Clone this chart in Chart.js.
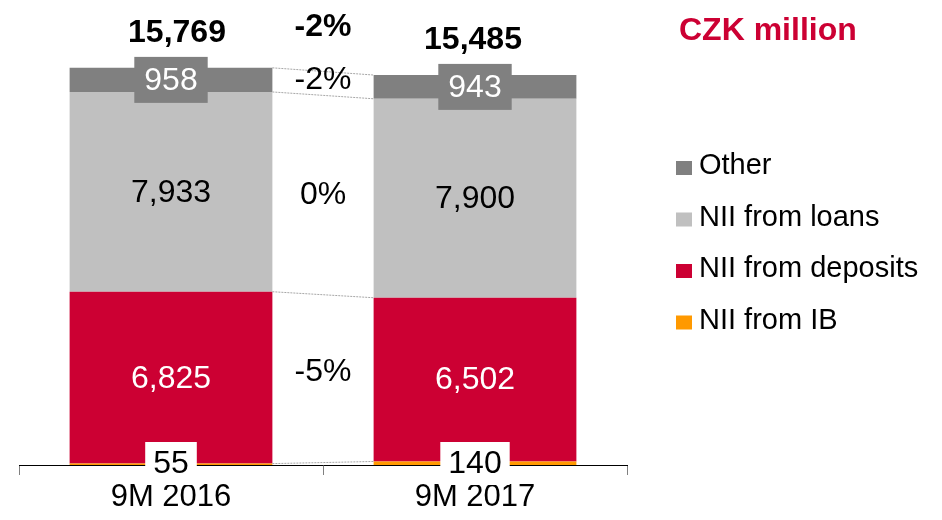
<!DOCTYPE html>
<html>
<head>
<meta charset="utf-8">
<script src="https://cdn.jsdelivr.net/npm/chart.js@4"></script>
<style>
  body { margin: 0; background: #fff; }
  #wrap { width: 942px; height: 520px; }
</style>
</head>
<body>
<div id="wrap"><canvas id="niichart" width="942" height="520"></canvas></div>
<script>
const categories = ['9M 2016', '9M 2017'];
const seriesNames = ['NII from IB', 'NII from deposits', 'NII from loans', 'Other'];
const niiFromIB = [55, 140];
const niiFromDeposits = [6825, 6502];
const niiFromLoans = [7933, 7900];
const other = [958, 943];
const totals = [15769, 15485];
const changes = ['', '-5%', '0%', '-2%'];   // per series, bottom to top
const totalChange = '-2%';
const unitTitle = 'CZK million';

const colors = ['#ff9900', '#cc0033', '#c0c0c0', '#808080'];
const FONT = '"Liberation Sans", Arial, sans-serif';

function fmt(v) {
    return v.toLocaleString('en-US');
}

function boxText(ctx, text, x, y, bg, fg, padX, padTop, padBottom) {
    var w = ctx.measureText(text).width;
    var h = 32;
    ctx.fillStyle = bg;
    ctx.fillRect(x - w / 2 - padX, y - h / 2 - padTop, w + padX * 2, h + padTop + padBottom);
    ctx.fillStyle = fg;
    ctx.fillText(text, x, y + 1);
}

// draws connectors, segment labels, totals, change %, legend and title
const annotations = {
    id: 'annotations',
    afterDatasetsDraw(chart) {
        const ctx = chart.ctx;
        const metas = chart.data.datasets.map((d, i) => chart.getDatasetMeta(i));
        ctx.save();

        // dotted connectors at the top of every segment
        ctx.strokeStyle = '#a6a6a6';
        ctx.lineWidth = 1;
        ctx.setLineDash([2, 1]);
        metas.forEach(m => {
            var a = m.data[0], b = m.data[1];
            ctx.beginPath();
            ctx.moveTo(a.x + a.width / 2, a.y);
            ctx.lineTo(b.x - b.width / 2, b.y);
            ctx.stroke();
        });
        ctx.setLineDash([]);

        ctx.textAlign = 'center';
        ctx.textBaseline = 'middle';
        ctx.font = '32px ' + FONT;

        metas.forEach((m, di) => {
            m.data.forEach((bar, i) => {
                var val = chart.data.datasets[di].data[i];
                var cy = (bar.y + bar.base) / 2;
                if (di === 0) {
                    boxText(ctx, fmt(val), bar.x, bar.base - 2, '#ffffff', '#000000', 8, 5, 6);
                } else if (di === 3) {
                    boxText(ctx, fmt(val), bar.x, cy, '#808080', '#ffffff', 10, 7, 7);
                } else {
                    ctx.fillStyle = di === 1 ? '#ffffff' : '#000000';
                    ctx.fillText(fmt(val), bar.x, cy + 1);
                }
            });
        });

        // change labels between the bars
        metas.forEach((m, di) => {
            if (!changes[di]) return;
            var a = m.data[0], b = m.data[1];
            var x = (a.x + a.width / 2 + b.x - b.width / 2) / 2;
            var y = ((a.y + a.base) / 2 + (b.y + b.base) / 2) / 2;
            if (di === 1) y -= 6;
            if (di === 3) y -= 3;
            ctx.fillStyle = '#000000';
            ctx.fillText(changes[di], x, y);
        });

        // totals
        var top = metas[3];
        ctx.font = 'bold 32px ' + FONT;
        top.data.forEach((bar, i) => {
            ctx.fillText(fmt(totals[i]), bar.x + (i === 0 ? 6 : -2), bar.y - 35);
        });
        var a = top.data[0], b = top.data[1];
        ctx.fillText(totalChange, (a.x + a.width / 2 + b.x - b.width / 2) / 2, (a.y + b.y) / 2 - 44);

        // unit title
        ctx.textAlign = 'left';
        ctx.fillStyle = '#cc0033';
        ctx.fillText(unitTitle, 679, 31);

        // legend, top series first
        ctx.font = '29px ' + FONT;
        for (var k = 0; k < seriesNames.length; k++) {
            var di = seriesNames.length - 1 - k;
            var ly = 166 + k * 51.5;
            ctx.fillStyle = colors[di];
            ctx.fillRect(676, ly - 5, 16, 14);
            ctx.fillStyle = '#000000';
            ctx.fillText(seriesNames[di], 699, ly);
        }
        ctx.restore();
    }
};

const seriesData = [niiFromIB, niiFromDeposits, niiFromLoans, other];

new Chart(document.getElementById('niichart'), {
    type: 'bar',
    data: {
        labels: categories,
        datasets: seriesNames.map((name, i) => ({
            label: name,
            data: seriesData[i],
            backgroundColor: colors[i],
            borderWidth: 0,
            categoryPercentage: 1,
            barPercentage: 0.667
        }))
    },
    options: {
        responsive: false,
        animation: false,
        devicePixelRatio: 1,
        layout: { padding: { left: 19, right: 315, top: 20, bottom: 0 } },
        plugins: {
            legend: { display: false },
            tooltip: { enabled: false }
        },
        scales: {
            x: {
                stacked: true,
                grid: {
                    drawOnChartArea: false,
                    drawTicks: true,
                    tickLength: 10,
                    color: '#808080'
                },
                border: { color: '#000000', width: 1 },
                ticks: {
                    color: '#000000',
                    padding: 7,
                    font: { family: FONT, size: 31, lineHeight: 1.0 }
                }
            },
            y: {
                stacked: true,
                display: false,
                min: 0,
                max: 17670
            }
        }
    },
    plugins: [annotations]
});
</script>
</body>
</html>
